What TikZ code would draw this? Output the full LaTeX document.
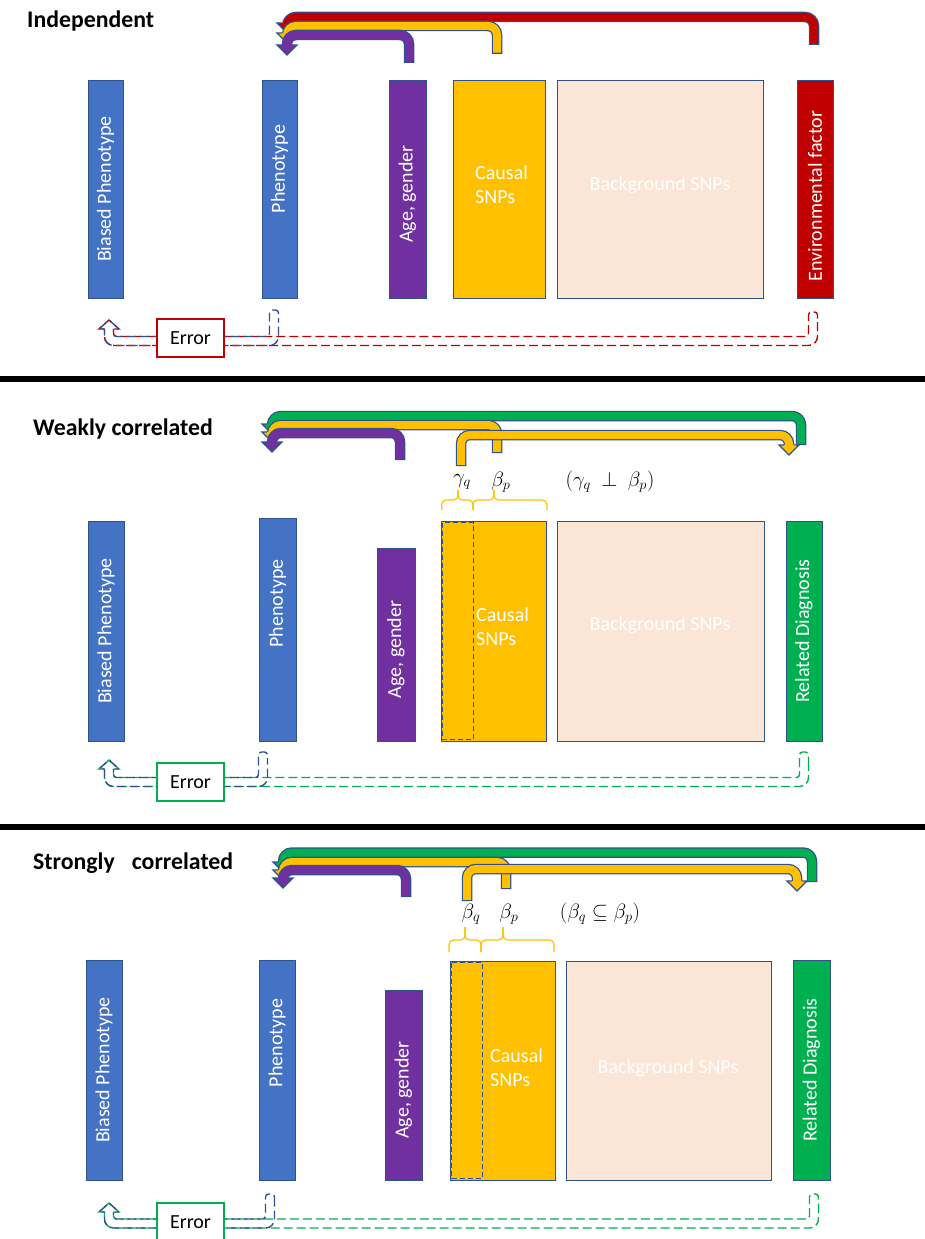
\documentclass[tikz,border=0pt]{standalone}
\usepackage{fontspec}
\setmainfont{Carlito}
\definecolor{cblue}{HTML}{4472C4}
\definecolor{cline}{HTML}{2F528F}
\definecolor{cpurple}{HTML}{7030A0}
\definecolor{corange}{HTML}{FFC000}
\definecolor{cpeach}{HTML}{FBE5D6}
\definecolor{cred}{HTML}{C00000}
\definecolor{cgreen}{HTML}{00B050}
\newcommand\bxfont{\fontsize{20}{24}\selectfont}
\newcommand\ttlfont{\fontsize{23.8}{28}\selectfont\bfseries}
\newcommand\mthfont{\fontsize{21}{25}\selectfont}
% box: name, x1, y1, x2, y2, fill
\newcommand\bx[6]{\node[box, fill=#6, minimum width={#4-#2}, minimum height={#5-#3}] (#1) at ({(#2+#4)/2},{(#3+#5)/2}) {};}
% block arrow: colour, xs, ys, yh, xe, ytip
\newcommand\barr[6]{%
 \draw[line width=10.5pt, cline, rounded corners=9pt] (#2,#3) -- (#2,#4) -- (#5,#4) -- (#5,{#6-6});
 \draw[line width=8pt, #1, rounded corners=9pt] (#2,{#3-1.25}) -- (#2,#4) -- (#5,#4) -- (#5,{#6-6});
 \fill[#1] ({#5-10},{#6-10}) -- (#5,#6) -- ({#5+10},{#6-10}) -- cycle;
 \draw[cline, line width=1.25pt, miter limit=10] ({#5-5.25},{#6-10}) -- ({#5-10},{#6-10}) -- (#5,#6) -- ({#5+10},{#6-10}) -- ({#5+5.25},{#6-10});
}
% hollow dashed arrow: style, xs, ys, yc, xl, ytip
\newcommand\harr[6]{%
 \draw[#1, rounded corners=3pt] ({#5+4.5},{#6+9}) -- ({#5+4.5},{#4-4.5}) -- ({#2-4.5},{#4-4.5}) -- ({#2-4.5},#3) -- ({#2+4.5},#3) -- ({#2+4.5},{#3+10});
 \draw[#1, rounded corners=9pt] ({#2+4.5},{#3+10}) -- ({#2+4.5},{#4+4.5}) -- ({#5-4.5},{#4+4.5}) -- ({#5-4.5},{#6+9});
 \draw[#1] ({#5-4.5},{#6+9}) -- ({#5-10},{#6+9}) -- (#5,#6) -- ({#5+10},{#6+9}) -- ({#5+4.5},{#6+9});
}
% bracket: x1, xpeak, x2, yend, yline, ytop
\newcommand\brk[6]{%
 \draw[brkline] (#1,#4) -- (#1,#5) -- (#2,#5) -- (#2,#6);
 \draw[brkline] (#3,#4) -- (#3,#5) -- (#2,#5) -- (#2,#6);
}
\begin{document}
\begin{tikzpicture}[x=1pt,y=-1pt,
 box/.style={draw=cline, line width=0.9pt, inner sep=0pt, outer sep=0pt},
 vlbl/.style={text=white, font=\bxfont, rotate=90, inner sep=0pt},
 hlbl/.style={text=white, font=\bxfont, inner sep=0pt, align=left},
 title/.style={font=\ttlfont, anchor=base west, inner sep=0pt},
 errbox/.style={draw=#1, line width=1.3pt, fill=white, minimum width=67pt, minimum height=38pt, font=\bxfont, inner sep=0pt},
 mlbl/.style={font=\mthfont, inner sep=0pt},
 brkline/.style={draw=corange, line width=1.2pt, rounded corners=4.5pt},
 sepline/.style={line width=6pt, black},
 dashbox/.style={cline, line width=1pt, dash pattern=on 5pt off 3pt},
 redd/.style={cred, line width=1.4pt, dash pattern=on 9pt off 4pt},
 grnd/.style={cgreen, line width=1.4pt, dash pattern=on 9pt off 4pt},
 blud/.style={cline, line width=1.4pt, dash pattern=on 9pt off 4pt, dash phase=6.5pt},
]
\useasboundingbox (0,0) rectangle (925,1239);

% ---------- Section 1: Independent ----------
\node[title] (t1) at (27,27.5) {Independent};
\bx{bp1}{88}{80}{123}{298}{cblue}
\bx{ph1}{262}{80}{297}{298}{cblue}
\bx{ag1}{389}{80}{426}{298}{cpurple}
\bx{cs1}{453}{80}{545}{298}{corange}
\bx{bg1}{557}{80}{763}{298}{cpeach}
\bx{ev1}{797}{80}{833}{298}{cred}
\node[vlbl] (bp1t) at (bp1) {Biased Phenotype};
\node[vlbl] (ph1t) at ([yshift=20pt]ph1.center) {Phenotype};
\node[vlbl] (ag1t) at ([yshift=-5pt]ag1.center) {Age, gender};
\node[hlbl, anchor=west] (cs1t) at (475,185) {Causal\\SNPs};
\node[hlbl] (bg1t) at (660,185) {Background SNPs};
\node[vlbl] (ev1t) at ([yshift=-7pt]ev1.center) {Environmental factor};

\barr{cred}{814}{45}{17}{287}{33}
\barr{corange}{497}{54}{26}{287}{43}
\barr{cpurple}{409}{63}{35}{287}{55}

\harr{redd}{813}{312}{341}{109}{320}
\harr{blud}{274}{310}{341}{109}{320}
\node[errbox=cred] (e1) at (190.5,338) {Error};

\draw[sepline] (0,378.5) -- (925,378.5);

% ---------- Section 2: Weakly correlated ----------
\node[title] (t2) at (33,435) {Weakly correlated};
\bx{bp2}{88}{521}{124}{741}{cblue}
\bx{ph2}{259}{518}{296}{741}{cblue}
\bx{ag2}{377}{548}{415}{741}{cpurple}
\bx{cs2}{441}{521}{546}{741}{corange}
\bx{bg2}{557}{521}{764}{741}{cpeach}
\bx{rd2}{786}{521}{822}{741}{cgreen}
\draw[dashbox] (442.5,522.5) rectangle (473,739.5);
\node[vlbl] (bp2t) at (bp2) {Biased Phenotype};
\node[vlbl] (ph2t) at ([yshift=26pt]ph2.center) {Phenotype};
\node[vlbl] (ag2t) at ([yshift=-5pt]ag2.center) {Age, gender};
\node[hlbl, anchor=west] (cs2t) at (476,627) {Causal\\SNPs};
\node[hlbl] (bg2t) at (660,625) {Background SNPs};
\node[vlbl] (rd2t) at (rd2) {Related Diagnosis};

\barr{cgreen}{801}{445}{416}{272}{434}
\barr{corange}{497}{453}{425}{272}{442}
\barr{cpurple}{400}{460}{433}{272}{452}
\barr{corange}{461}{466}{435}{789}{455}

\node[mlbl] (g2) at (462,482) {$\gamma_q$};
\node[mlbl] (b2) at (501,482) {$\beta_p$};
\node[mlbl] (r2) at (610,482) {$(\gamma_q\ \perp\ \beta_p)$};
\brk{441.7}{458}{473}{510}{500}{490}
\brk{473}{494}{547}{510}{500}{490}

\harr{grnd}{804}{752}{782}{109}{760}
\harr{blud}{263}{752}{782}{109}{760}
\node[errbox=cgreen] (e2) at (190.5,782) {Error};

\draw[sepline] (0,826.5) -- (925,826.5);

% ---------- Section 3: Strongly correlated ----------
\node[title] (t3) at (33,869) {Strongly\hspace{17pt}correlated};
\bx{bp3}{86}{960}{122}{1180}{cblue}
\bx{ph3}{259}{960}{295}{1180}{cblue}
\bx{ag3}{385}{990}{422}{1180}{cpurple}
\bx{cs3}{450}{961}{555}{1180}{corange}
\bx{bg3}{566}{961}{771}{1180}{cpeach}
\bx{rd3}{793}{960}{830}{1180}{cgreen}
\draw[dashbox] (451.5,962.5) rectangle (482,1178.5);
\node[vlbl] (bp3t) at (bp3) {Biased Phenotype};
\node[vlbl] (ph3t) at ([yshift=27pt]ph3.center) {Phenotype};
\node[vlbl] (ag3t) at ([yshift=-5pt]ag3.center) {Age, gender};
\node[hlbl, anchor=west] (cs3t) at (490,1068) {Causal\\SNPs};
\node[hlbl] (bg3t) at (668,1068) {Background SNPs};
\node[vlbl] (rd3t) at (rd3) {Related Diagnosis};

\barr{cgreen}{812}{882}{852.5}{283}{872}
\barr{corange}{506}{889}{862}{283}{880}
\barr{cpurple}{406}{897}{870}{283}{888}
\barr{corange}{467}{901}{869}{797}{891}

\node[mlbl] (bq3) at (471,914) {$\beta_q$};
\node[mlbl] (bp3m) at (509,914) {$\beta_p$};
\node[mlbl] (r3) at (600,914) {$(\beta_q \subseteq \beta_p)$};
\brk{449}{465}{481}{952}{940}{927}
\brk{481}{503}{554}{952}{940}{927}

\harr{grnd}{814}{1194}{1223.5}{109}{1203}
\harr{blud}{270}{1194}{1223.5}{109}{1203}
\node[errbox=cgreen] (e3) at (190.5,1222) {Error};
\end{tikzpicture}
\end{document}
